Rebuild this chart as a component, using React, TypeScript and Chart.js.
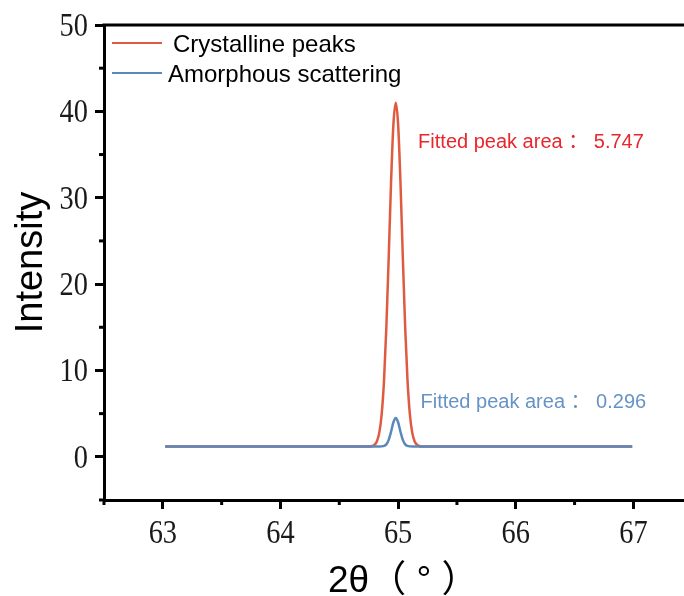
import { useEffect, useRef } from 'react';
import { Chart, registerables } from 'chart.js';

Chart.register(...registerables);

// 2θ sample positions (degrees)
const thetaValues = [
  63.02, 64.72, 64.76, 64.78, 64.8, 64.82, 64.84, 64.86, 64.88, 64.9, 64.92, 64.94, 64.96, 64.98,
  65.0, 65.02, 65.04, 65.06, 65.08, 65.1, 65.12, 65.14, 65.16, 65.18, 65.2, 65.24, 66.99,
];
// Crystalline peak intensity
const crystallineValues = [
  1.2, 1.2, 1.2, 1.25, 1.4, 1.8, 2.8, 4.9, 8.8, 15.0, 23.1, 31.8, 38.5, 41.0,
  38.5, 31.8, 23.1, 15.0, 8.8, 4.9, 2.8, 1.8, 1.4, 1.25, 1.2, 1.2, 1.2,
];
// Amorphous scattering intensity
const amorphousValues = [
  1.2, 1.2, 1.2, 1.2, 1.2, 1.2, 1.2, 1.21, 1.26, 1.44, 1.96, 2.9, 4.0, 4.5,
  4.0, 2.9, 1.96, 1.44, 1.26, 1.21, 1.2, 1.2, 1.2, 1.2, 1.2, 1.2, 1.2,
];
const seriesNames = ['Crystalline peaks', 'Amorphous scattering'];
const peakAreaLabels = ['Fitted peak area \uFF1A 5.747', 'Fitted peak area \uFF1A 0.296'];
const xTickValues = [63, 64, 65, 66, 67];
const xMinorTickValues = [62.5, 63.5, 64.5, 65.5, 66.5];
const yTickValues = [0, 10, 20, 30, 40, 50];
const yMinorTickValues = [-5, 5, 15, 25, 35, 45];
const xTitle = '2\u03B8\uFF08 \u00B0 \uFF09';
const yTitle = 'Intensity';

const RED_LINE = '#e05a40';
const BLUE_LINE = '#5b88bb';
const RED_TEXT = '#e8262c';
const BLUE_TEXT = '#6693c6';
const SANS = '"Liberation Sans", Arial, "Noto Sans CJK SC", sans-serif';
const SERIF = '"Liberation Serif", "Times New Roman", serif';

export default function App() {
  const ref = useRef<HTMLCanvasElement>(null);

  useEffect(() => {
    document.body.style.margin = '0';
    const canvas = ref.current;
    if (!canvas) return;

    const drawCondensed = (ctx: any, text: string, x: number, y: number, align: 'center' | 'right') => {
      const sx = 0.86;
      ctx.save();
      ctx.translate(x, y);
      ctx.scale(sx, 1);
      ctx.textAlign = align;
      ctx.fillText(text, 0, 0);
      ctx.restore();
    };

    const overlay = {
      id: 'overlay',
      afterDraw(chart: any) {
        const { ctx, chartArea } = chart;
        const xs = chart.scales.x;
        const ys = chart.scales.y;
        ctx.save();
        // top frame line
        ctx.strokeStyle = '#000';
        ctx.lineWidth = 3;
        ctx.beginPath();
        ctx.moveTo(chartArea.left - 1.5, chartArea.top);
        ctx.lineTo(chartArea.right, chartArea.top);
        ctx.stroke();
        // minor ticks
        xMinorTickValues.forEach((v) => {
          const px = xs.getPixelForValue(v);
          ctx.beginPath();
          ctx.moveTo(px, chartArea.bottom);
          ctx.lineTo(px, chartArea.bottom + 5);
          ctx.stroke();
        });
        yMinorTickValues.forEach((v) => {
          const py = ys.getPixelForValue(v);
          ctx.beginPath();
          ctx.moveTo(chartArea.left, py);
          ctx.lineTo(chartArea.left - 5, py);
          ctx.stroke();
        });
        // tick labels (condensed serif)
        ctx.fillStyle = '#1a1a1a';
        ctx.font = `33px ${SERIF}`;
        ctx.textBaseline = 'alphabetic';
        xTickValues.forEach((v) => {
          drawCondensed(ctx, String(v), xs.getPixelForValue(v), chartArea.bottom + 43, 'center');
        });
        yTickValues.forEach((v) => {
          drawCondensed(ctx, String(v), chartArea.left - 16, ys.getPixelForValue(v) + 11, 'right');
        });
        // legend
        const legendItems = [
          { name: seriesNames[0], color: RED_LINE, y: 43, tx: 173 },
          { name: seriesNames[1], color: BLUE_LINE, y: 73, tx: 168 },
        ];
        ctx.font = `24px ${SANS}`;
        ctx.textAlign = 'left';
        legendItems.forEach((it) => {
          ctx.strokeStyle = it.color;
          ctx.lineWidth = 2;
          ctx.beginPath();
          ctx.moveTo(112, it.y);
          ctx.lineTo(162, it.y);
          ctx.stroke();
          ctx.fillStyle = '#000';
          ctx.fillText(it.name, it.tx, it.y + 9);
        });
        // annotations
        ctx.font = `20px ${SANS}`;
        ctx.fillStyle = RED_TEXT;
        ctx.fillText(peakAreaLabels[0], xs.getPixelForValue(65.17), ys.getPixelForValue(35.8));
        ctx.fillStyle = BLUE_TEXT;
        ctx.fillText(peakAreaLabels[1], xs.getPixelForValue(65.19), ys.getPixelForValue(5.6));
        // axis titles
        ctx.fillStyle = '#000';
        ctx.font = `37px ${SANS}`;
        ctx.textAlign = 'left';
        ctx.fillText(xTitle, 328, 592);
        ctx.save();
        ctx.translate(42, (chartArea.top + chartArea.bottom) / 2);
        ctx.rotate(-Math.PI / 2);
        ctx.textAlign = 'center';
        ctx.font = `38px ${SANS}`;
        ctx.fillText(yTitle, 0, 0);
        ctx.restore();
        ctx.restore();
      },
    };

    const chart = new Chart(canvas, {
      type: 'line',
      data: {
        datasets: [
          {
            label: seriesNames[0],
            data: thetaValues.map((x, i) => ({ x, y: crystallineValues[i] })),
            borderColor: RED_LINE,
            borderWidth: 2.5,
            pointRadius: 0,
            cubicInterpolationMode: 'monotone',
            order: 1,
          },
          {
            label: seriesNames[1],
            data: thetaValues.map((x, i) => ({ x, y: amorphousValues[i] })),
            borderColor: BLUE_LINE,
            borderWidth: 2.5,
            pointRadius: 0,
            cubicInterpolationMode: 'monotone',
            order: 0,
          },
        ],
      },
      options: {
        animation: false,
        responsive: false,
        layout: { padding: { top: 25, right: 0, left: 0, bottom: 0 } },
        plugins: { legend: { display: false }, tooltip: { enabled: false } },
        scales: {
          x: {
            type: 'linear',
            min: 62.5,
            max: 67.43,
            afterBuildTicks: (s: any) => {
              s.ticks = xTickValues.map((v) => ({ value: v }));
            },
            afterFit: (s: any) => {
              s.height = 96;
            },
            grid: { drawOnChartArea: false, drawTicks: true, tickLength: 9, tickWidth: 3, tickColor: '#000' },
            border: { display: true, color: '#000', width: 3 },
            ticks: { display: false },
          },
          y: {
            type: 'linear',
            min: -5,
            max: 50,
            afterBuildTicks: (s: any) => {
              s.ticks = yTickValues.map((v) => ({ value: v }));
            },
            afterFit: (s: any) => {
              s.width = 104;
            },
            grid: { drawOnChartArea: false, drawTicks: true, tickLength: 9, tickWidth: 3, tickColor: '#000' },
            border: { display: true, color: '#000', width: 3 },
            ticks: { display: false },
          },
        },
      },
      plugins: [overlay],
    });
    return () => chart.destroy();
  }, []);

  return <canvas ref={ref} width={684} height={596} style={{ display: 'block' }} />;
}
